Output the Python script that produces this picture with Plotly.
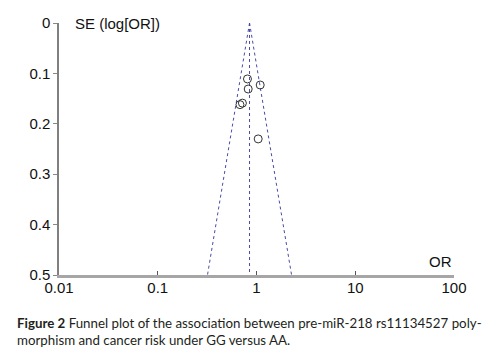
import numpy as np
import plotly.graph_objects as go

# Study estimates (odds ratio, standard error of log OR)
study_or = [0.81, 1.09, 0.824, 0.72, 0.68, 1.04]
study_se = [0.111, 0.123, 0.131, 0.159, 0.162, 0.230]
pooled_or = 0.85
se_max = 0.5

x_tickvals = [0.01, 0.1, 1, 10, 100]
x_ticktext = ["0.01", "0.1", "1", "10", "100"]
y_tickvals = [0, 0.1, 0.2, 0.3, 0.4, 0.5]
y_ticktext = ["0", "0.1", "0.2", "0.3", "0.4", "0.5"]

caption_bold = "Figure 2"
caption_line1 = " Funnel plot of the association between pre-miR-218 rs11134527 poly-"
caption_line2 = "morphism and cancer risk under GG versus AA."

# Funnel boundaries from pooled estimate
se_line = np.array([0.0, se_max])
log_p = np.log(pooled_or)
left_or = np.exp(log_p - 1.96 * se_line)
right_or = np.exp(log_p + 1.96 * se_line)

line_style = dict(color="#4a4aa8", width=1, dash="3px,3px")

fig = go.Figure()
fig.add_trace(go.Scatter(x=list(left_or), y=list(se_line), mode="lines", line=line_style, hoverinfo="skip"))
fig.add_trace(go.Scatter(x=list(right_or), y=list(se_line), mode="lines", line=line_style, hoverinfo="skip"))
fig.add_trace(go.Scatter(x=[pooled_or, pooled_or], y=list(se_line), mode="lines", line=line_style, hoverinfo="skip"))
fig.add_trace(go.Scatter(
    x=study_or, y=study_se, mode="markers",
    marker=dict(symbol="circle-open", size=8, color="#333333", line=dict(width=1, color="#333333")),
))

tick_font = dict(family="Liberation Sans, Arial, sans-serif", size=15, color="#111111")

fig.update_layout(
    width=493, height=349,
    margin=dict(l=59, r=39, t=23, b=74),
    paper_bgcolor="white", plot_bgcolor="white",
    showlegend=False,
    xaxis=dict(
        type="log", range=[-2, 2],
        tickvals=x_tickvals, ticktext=x_ticktext,
        showgrid=False, zeroline=False,
        showline=True, linecolor="#a6a6a6", linewidth=2.5,
        ticks="inside", ticklen=4, tickcolor="#555555", tickwidth=1,
        ticklabelstandoff=-3,
        tickfont=tick_font,
    ),
    yaxis=dict(
        range=[0.5, 0],
        tickvals=y_tickvals, ticktext=y_ticktext,
        showgrid=False, zeroline=False,
        showline=True, linecolor="#808080", linewidth=1.5,
        ticks="outside", ticklen=4, tickcolor="#888888", tickwidth=1,
        tickfont=tick_font,
    ),
    annotations=[
        dict(text="SE (log[OR])", xref="paper", yref="paper", x=0.035, y=1.0,
             xanchor="left", yanchor="middle", showarrow=False,
             font=dict(family="Liberation Sans, Arial, sans-serif", size=15, color="#111111")),
        dict(text="OR", xref="paper", yref="paper", x=1.0, y=0.0,
             xanchor="right", yanchor="bottom", yshift=3, showarrow=False,
             font=dict(family="Liberation Sans, Arial, sans-serif", size=15, color="#111111")),
        dict(text="<b>" + caption_bold + "</b>" + caption_line1 + "<br>" + caption_line2,
             xref="paper", yref="paper", x=-0.1114, y=-0.15,
             xanchor="left", yanchor="top", align="left", showarrow=False,
             font=dict(family="Lato, sans-serif", size=13.3, color="#231f20")),
    ],
)

fig.write_html("out.html")
